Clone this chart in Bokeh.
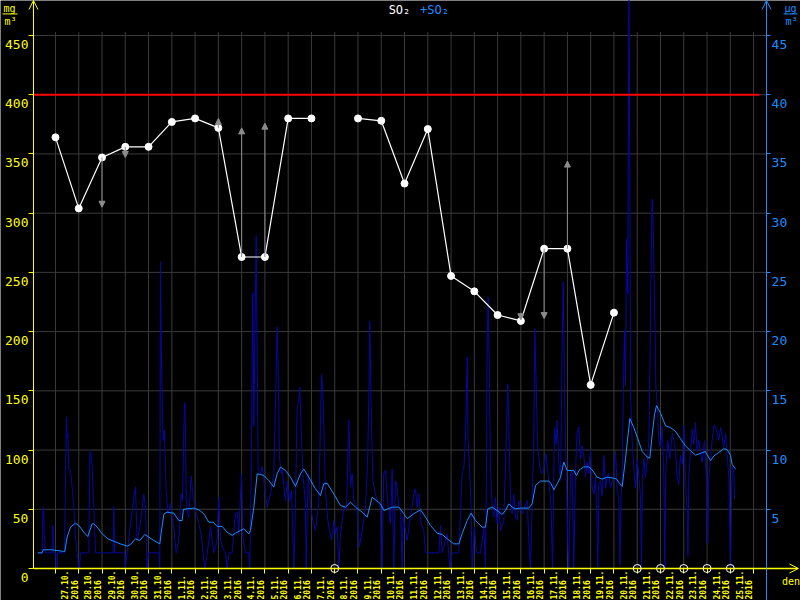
import math
from bokeh.plotting import figure
from bokeh.models import (Range1d, LinearAxis, FixedTicker, ColumnDataSource, Arrow,
                          OpenHead, NormalHead, Label)
from bokeh.core.properties import value
from bokeh.embed import file_html
from bokeh.resources import INLINE

NaN = float("nan")

# ---------------- data ----------------
date_labels = ["27.10.", "28.10.", "29.10.", "30.10.", "31.10.", "1.11.", "2.11.", "3.11.",
               "4.11.", "5.11.", "6.11.", "7.11.", "8.11.", "9.11.", "10.11.", "11.11.",
               "12.11.", "13.11.", "14.11.", "15.11.", "16.11.", "17.11.", "18.11.", "19.11.",
               "20.11.", "21.11.", "22.11.", "23.11.", "24.11.", "25.11."]
year_label = "2016"

# daily values (left axis), one per day starting 27.10.
daily_so2 = [364, 304, 347, 356, 356, 377, 380, 372, 263, 263, 380, 380, NaN, 380, 378,
             325, 371, 247, 234, 214, 209, 270, 270, 155, 216, NaN, NaN, NaN, NaN, NaN]
missing_days = [12, 25, 26, 27, 28, 29]
limit_value = 400

arrow_days = [2, 3, 7, 8, 9, 20, 21, 22]
arrow_from = [347, 356, 372, 263, 263, 216, 270, 270]
arrow_to = [305, 347, 380, 372, 376, 210, 211, 344]

left_ticks = [0, 50, 100, 150, 200, 250, 300, 350, 400, 450]
right_ticks = [5, 10, 15, 20, 25, 30, 35, 40, 45]

# hourly values (right axis), (hour since 27.10. 00:00, value)
hourly_a = [(-18.2, 1.32), (-13.7, 1.32), (-13.0, 4.6), (-12.3, 5.2), (-11.5, 3.0), (-10.3, 1.32),
            (-3.6, 1.32), (-3.2, 3.6), (-2.4, 3.6), (-2.0, 1.32), (0.2, 1.32), (0.7, 0), (1.7, 0),
            (2.2, 1.32), (9.3, 1.32), (10.0, 5.5), (11.3, 12.8), (12.0, 11.0), (12.7, 11.4),
            (13.8, 8.3), (15.5, 8.3), (17.2, 6.9), (18.9, 5.2), (20.6, 2.65), (22.3, 1.32),
            (24.0, 0), (24.8, 0), (25.8, 1.32), (34.4, 1.32), (35.4, 9.4), (36.1, 10.0),
            (37.8, 8.6), (39.5, 5.2), (41.3, 1.32), (59.5, 1.32), (60.2, 5.2), (61.0, 1.32),
            (71.5, 1.32), (72.2, 0), (73.9, 1.32), (77.4, 3.8), (80.8, 6.0), (82.5, 6.9),
            (84.2, 2.4), (87.7, 3.8), (91.1, 6.3), (92.8, 5.2), (94.5, 0), (96.0, 1.32),
            (106.6, 1.32), (107.6, 0), (108.3, 25.9), (109.3, 17.9), (111.0, 10.8), (112.4, 11.7),
            (114.1, 6.6), (115.9, 4.6), (118.6, 5.5), (122.0, 3.5), (124.5, 1.32), (127.2, 2.4),
            (129.6, 6.3), (131.0, 5.7), (133.0, 13.9), (133.6, 14.0), (135.1, 5.2), (137.5, 4.3),
            (139.9, 7.8), (142.0, 6.0), (144.4, 4.9), (147.8, 3.8), (150.2, 2.9), (154.0, 0),
            (156.4, 1.24), (159.9, 3.5), (163.3, 1.32), (166.7, 2.4)]
hourly_b = [(168.5, 6.0), (170.2, 2.4), (173.6, 1.5), (175.3, 1.32), (177.1, 0), (178.8, 1.32),
            (182.2, 1.32), (185.6, 4.6), (187.4, 4.8), (189.1, 2.9), (191.8, 8.0), (193.2, 2.65),
            (196.0, 1.32), (199.4, 1.32), (200.4, 0), (201.8, 7.4), (203.5, 23.3), (204.6, 12.0),
            (205.8, 20.4), (207.0, 28.1), (208.0, 18.1), (209.0, 8.3), (211.4, 8.0), (213.2, 8.6),
            (216.6, 6.3), (218.3, 5.2), (221.8, 6.3), (225.2, 8.0), (226.9, 13.9), (228.6, 20.4),
            (229.7, 17.0), (231.0, 9.4), (232.8, 8.0), (233.8, 8.3), (237.2, 5.7), (239.0, 7.4),
            (241.3, 5.7), (243.4, 6.6), (245.8, 0), (247.5, 5.2), (249.2, 13.6), (251.0, 14.2),
            (252.0, 15.3), (253.7, 11.1), (255.1, 8.0), (257.8, 5.5), (258.5, 0), (260.6, 8.0),
            (263.0, 5.2), (265.4, 4.05), (268.2, 3.2), (271.6, 5.7), (274.4, 16.4), (275.4, 15.6),
            (276.8, 11.9), (278.5, 6.6), (280.2, 4.6), (281.9, 3.5), (284.7, 2.4), (287.1, 4.05),
            (288.8, 2.9), (290.5, 3.5), (292.2, 0), (294.0, 2.9), (297.4, 5.2), (300.1, 4.9),
            (302.5, 12.5), (304.3, 6.9), (306.0, 8.0), (307.7, 5.7), (311.1, 5.2), (313.5, 1.8),
            (316.3, 3.2), (319.7, 5.2), (321.8, 8.6), (323.2, 14.5), (324.2, 20.9), (325.6, 13.6),
            (327.3, 7.4), (330.0, 6.3), (332.8, 5.5), (335.2, 5.2), (336.9, 0), (338.6, 8.0),
            (340.4, 8.3), (343.1, 5.2), (345.5, 3.8), (347.2, 8.4), (349.0, 0), (350.7, 7.4),
            (352.4, 6.9), (354.1, 5.2)]
hourly_c = [(355.8, 5.04), (357.5, 0), (358.6, 4.34), (362.7, 2.36), (366.1, 4.34), (369.6, 6.3),
            (371.3, 6.73), (373.0, 5.18), (374.7, 6.3), (377.1, 3.77), (379.9, 3.21), (381.6, 1.32),
            (395.4, 1.32), (397.1, 3.63), (398.8, 1.32), (404.0, 2.93), (406.7, 0), (409.1, 1.32),
            (416.0, 1.32), (417.7, 4.62), (419.4, 8.0), (421.2, 8.56), (422.9, 11.1), (424.6, 17.85),
            (425.6, 10.8), (427.0, 8.56), (428.7, 5.18), (429.7, 0), (432.2, 3.49), (434.2, 1.32),
            (438.3, 1.32), (440.1, 2.36), (441.8, 3.49), (443.5, 0), (444.5, 8.0), (445.2, 18.97),
            (446.3, 22.9), (447.3, 17.3), (448.7, 8.56), (450.4, 5.18), (452.1, 4.34), (453.8, 6.02),
            (455.5, 3.77), (457.3, 5.18), (459.0, 3.21), (462.4, 4.05), (465.2, 11.94), (466.5, 15.6),
            (467.9, 10.8), (469.3, 5.74), (471.0, 4.62), (472.7, 6.3), (474.4, 4.34), (476.2, 4.05),
            (477.9, 5.74), (479.6, 5.18), (481.3, 4.62), (483.7, 5.18), (486.5, 5.74), (488.2, 2.36),
            (489.9, 0), (491.6, 5.18), (493.3, 10.8), (494.4, 20.24), (495.8, 15.3), (497.5, 10.25),
            (499.5, 8.56), (502.0, 8.0), (503.7, 8.56), (505.7, 9.7), (508.8, 7.43), (511.2, 5.18),
            (512.6, 0), (514.7, 11.94), (516.4, 10.5), (517.4, 12.5), (519.1, 8.84), (520.9, 7.43),
            (522.6, 19.26), (523.6, 24.2), (525.0, 15.03), (526.7, 8.56), (528.4, 2.36), (529.4, 0),
            (531.2, 8.0), (532.9, 8.28), (534.6, 0), (536.3, 8.0), (538.0, 11.4), (539.8, 11.94)]
hourly_d = [(541.5, 9.26), (543.2, 10.34), (544.9, 9.57), (546.7, 7.71), (548.4, 8.95), (550.1, 8.02),
            (551.8, 10.03), (553.5, 6.78), (555.3, 6.32), (557.0, 7.71), (558.7, 3.37), (559.4, 0.1),
            (560.4, 7.09), (562.1, 7.4), (563.8, 6.16), (565.6, 9.57), (567.3, 6.78), (569.0, 7.71),
            (570.7, 8.02), (572.4, 6.78), (574.2, 7.4), (575.9, 7.71), (577.6, 9.88), (579.3, 6.5),
            (581.0, 5.85), (582.1, 0.3), (583.4, 6.16), (584.5, 7.71), (585.5, 13.9), (586.9, 20.1),
            (587.9, 15.45), (589.0, 27.8), (590.3, 23.2), (591.4, 50.0), (592.4, 33.4), (593.1, 14.8),
            (594.8, 10.8), (596.5, 8.33), (598.2, 6.78), (600.0, 9.26), (601.7, 7.71), (603.4, 6.16),
            (604.4, 0.1), (605.4, 7.71), (606.8, 9.26), (608.5, 7.71), (610.3, 8.95), (612.0, 10.8),
            (613.0, 16.4), (614.4, 26.3), (615.4, 31.2), (616.5, 28.8), (617.8, 23.2), (619.2, 15.45),
            (620.6, 13.9), (622.3, 10.8), (624.0, 10.19), (625.7, 12.05), (627.5, 7.71), (628.5, 0.1),
            (629.5, 8.33), (631.6, 10.8), (633.6, 9.26), (636.1, 11.43), (637.8, 10.8), (639.5, 9.88),
            (641.2, 7.71), (642.9, 7.09), (644.6, 9.57), (646.4, 8.8), (648.1, 12.05), (649.8, 7.4),
            (651.5, 4.92), (652.3, 1.0), (653.2, 7.71), (655.0, 9.88), (656.7, 11.74), (658.4, 10.5),
            (660.1, 12.36), (661.8, 9.88), (663.5, 10.8), (665.3, 9.88), (667.0, 8.95), (669.4, 10.8),
            (671.5, 7.09), (672.8, 2.13), (673.9, 7.71), (675.6, 9.26), (677.3, 10.8), (679.0, 12.05),
            (680.7, 12.05), (682.5, 11.43), (684.2, 10.8), (685.9, 11.89), (687.6, 11.12), (689.3, 10.19),
            (691.1, 11.43), (692.8, 9.57), (694.5, 7.71), (696.2, 0.1), (697.9, 8.64), (699.7, 8.02),
            (700.3, 5.85)]

# running average (right axis)
average_a = [(-18.2, 1.32), (-13.7, 1.32), (-12.7, 1.58), (-3.4, 1.58), (8.6, 1.44), (9.6, 1.44),
             (12.0, 2.65), (15.5, 3.49), (20.6, 3.83), (24.1, 3.63), (29.2, 3.07), (33.3, 2.70),
             (37.8, 3.77), (39.5, 3.77), (43.0, 3.49), (48.1, 2.93), (54.0, 2.51), (58.4, 2.36),
             (67.0, 2.08), (73.9, 1.89), (77.4, 2.03), (82.5, 2.51), (87.0, 2.36), (92.1, 2.87),
             (96.3, 2.65), (101.4, 2.36), (107.6, 2.08), (109.0, 3.0), (111.8, 4.6), (115.1, 4.76),
             (122.0, 4.67), (127.2, 4.05), (130.6, 4.05), (132.0, 5.0), (142.6, 5.10), (147.8, 4.96),
             (153.0, 4.62), (158.1, 3.91), (162.6, 3.91), (166.7, 3.55)]
average_b = [(171.9, 3.55), (177.1, 3.07), (182.2, 2.79), (185.6, 2.98), (190.8, 3.21), (194.2, 3.35),
             (199.4, 2.93), (201.1, 3.21), (204.6, 5.18), (208.0, 8.0), (214.9, 7.85), (220.0, 7.43),
             (225.2, 6.87), (228.6, 8.0), (232.1, 8.56), (237.2, 8.28), (242.4, 7.71), (247.5, 6.93),
             (252.7, 8.0), (256.1, 8.39), (261.3, 7.71), (268.1, 6.73), (273.3, 6.16), (276.7, 7.15),
             (280.2, 7.2), (287.0, 6.3), (293.9, 5.32), (299.1, 5.18), (304.3, 5.6), (309.4, 5.18),
             (316.3, 4.76), (321.5, 4.34), (326.6, 6.02), (335.2, 5.46), (338.7, 4.9), (347.3, 5.18),
             (354.2, 5.18)]
average_c = [(359.3, 4.62), (362.7, 4.2), (369.6, 4.62), (376.5, 4.96), (381.6, 4.34), (386.8, 3.63),
             (393.7, 2.98), (398.8, 2.87), (404.0, 2.51), (410.8, 2.08), (416.0, 2.08), (419.4, 2.93),
             (424.6, 4.05), (428.7, 4.67), (433.2, 4.05), (440.1, 3.49), (443.5, 3.49), (445.9, 5.04),
             (450.4, 5.18), (455.5, 4.9), (460.7, 4.56), (464.1, 4.9), (467.6, 5.46), (471.0, 5.18),
             (474.4, 5.04), (479.6, 5.1), (488.2, 5.1), (491.6, 5.46), (495.1, 7.01), (500.2, 7.38),
             (508.8, 7.38), (511.2, 7.15), (514.0, 6.64), (517.4, 7.15), (520.9, 7.71), (524.3, 8.98),
             (527.7, 8.28), (534.6, 8.28), (537.4, 7.85), (540.0, 8.3)]
average_d = [(541.5, 8.39), (544.9, 8.58), (550.1, 8.58), (553.5, 8.33), (558.7, 7.71), (563.8, 7.55),
             (569.0, 7.71), (574.2, 7.65), (578.6, 7.55), (582.1, 7.15), (584.5, 6.93), (587.9, 9.26),
             (592.4, 12.66), (596.5, 11.89), (600.6, 10.96), (605.1, 9.88), (610.3, 9.41), (613.0, 9.3),
             (615.4, 11.27), (617.8, 12.97), (619.9, 13.75), (624.0, 13.13), (629.2, 12.04),
             (634.3, 11.89), (639.5, 11.58), (644.6, 10.96), (649.8, 10.34), (655.0, 9.94),
             (660.1, 9.57), (665.3, 9.72), (670.4, 9.88), (675.6, 9.1), (679.0, 9.5), (684.2, 9.8),
             (689.3, 10.12), (692.8, 10.03), (696.2, 9.57), (697.9, 8.79), (701.4, 8.39)]

# ---------------- style ----------------
YEL = "#ffff00"
BLUE = "#1e8cff"
DARK = "#0808a0"
GRID_C = "#3a3a3a"
GREY = "#8c8c8c"
MONO = "DejaVu Sans Mono"

# frame covers the whole canvas; axes are pinned at fixed locations
XMIN, XMAX = -56.7, 768.4       # hours relative to 27.10. 00:00 (canvas edges)
YMIN, YMAX = -27.02, 479.55     # left-axis units (canvas edges)
X0, X1 = -22.7, 733.4           # positions of the left and right axes
H_PER_DAY = 24

hourly = hourly_a + hourly_b + hourly_c + hourly_d
average = average_a + average_b + average_c + average_d

p = figure(width=800, height=600, output_backend="svg", toolbar_location=None,
           x_range=Range1d(XMIN, XMAX), y_range=Range1d(YMIN, YMAX),
           x_axis_type=None, y_axis_type=None,
           background_fill_color="black", border_fill_color="black",
           outline_line_color=None, min_border=0)
p.extra_y_ranges = {"r": Range1d(YMIN / 10, YMAX / 10)}

day_bounds = [H_PER_DAY * k for k in range(len(date_labels) + 1)]
label_pos = [H_PER_DAY * k + 15.4 for k in range(len(date_labels))]

# grid
p.segment(x0=[X0] * 9, y0=left_ticks[1:], x1=[X1] * 9, y1=left_ticks[1:],
          line_color=GRID_C, line_width=1, level="underlay")
p.segment(x0=day_bounds, y0=[0] * len(day_bounds), x1=day_bounds, y1=[453] * len(day_bounds),
          line_color=GRID_C, line_width=1, level="underlay")

# axes (pinned)
yl = LinearAxis(fixed_location=X0, bounds=(0, YMAX), ticker=FixedTicker(ticks=left_ticks),
                axis_line_color=YEL, major_tick_line_color=YEL, major_tick_out=5, major_tick_in=0,
                minor_tick_line_color=None, major_label_text_color=YEL,
                major_label_text_font=MONO, major_label_text_font_size="13px",
                major_label_standoff=0,
                major_label_overrides={v: "\n" + str(v) for v in left_ticks})
p.add_layout(yl, "left")

yr = LinearAxis(y_range_name="r", fixed_location=X1, ticker=FixedTicker(ticks=right_ticks),
                axis_line_color=BLUE, major_tick_line_color=BLUE, major_tick_out=4, major_tick_in=0,
                minor_tick_line_color=None, major_label_text_color=BLUE,
                major_label_text_font=MONO, major_label_text_font_size="13px",
                major_label_standoff=1,
                major_label_overrides={v: "\n" + str(v) for v in right_ticks})
p.add_layout(yr, "right")

xa = LinearAxis(fixed_location=0, bounds=(X0, X1), ticker=FixedTicker(ticks=day_bounds),
                axis_line_color=YEL, axis_line_width=1.5,
                major_tick_out=5, major_tick_in=0, major_tick_line_color=YEL,
                minor_tick_line_color=None, major_label_text_font_size="1px",
                major_label_overrides={b: "" for b in day_bounds})
p.add_layout(xa, "below")

# date labels below the x axis
lsrc = ColumnDataSource(dict(x=label_pos, text=[f"{d}\n{year_label}" for d in date_labels]))
p.text(x="x", y=-26.2, text="text", source=lsrc, angle=math.pi / 2,
       text_align="left", text_baseline="middle", text_color=YEL,
       text_font=value(MONO), text_font_size=value("8px"), text_font_style="bold",
       text_line_height=1.05)

# hourly data and running average
p.line([t for t, v in hourly], [v for t, v in hourly], y_range_name="r",
       line_color=DARK, line_width=1)
p.line([t for t, v in average], [v for t, v in average], y_range_name="r",
       line_color=BLUE, line_width=1)

# limit line
p.segment(x0=[X0], y0=[limit_value], x1=[726.1], y1=[limit_value], line_color="#ff0000", line_width=2)

# arrows
asrc = ColumnDataSource(dict(x=[H_PER_DAY * d for d in arrow_days], y0=arrow_from, y1=arrow_to))
p.add_layout(Arrow(x_start="x", y_start="y0", x_end="x", y_end="y1", source=asrc,
                   line_color=GREY, line_width=1,
                   end=NormalHead(size=6, fill_color=GREY, line_color=GREY)))

# daily values
day_t = [H_PER_DAY * k for k in range(len(daily_so2))]
p.line(day_t, daily_so2, line_color="white", line_width=1.2)
p.scatter(day_t, daily_so2, size=7, fill_color="white", line_color="white")
p.scatter([H_PER_DAY * d for d in missing_days], [0] * len(missing_days), size=8,
          fill_color=None, line_color="white", line_width=1, level="overlay")

# axis arrows
p.add_layout(Arrow(x_start=X0, y_start=YMAX - 13, x_end=X0, y_end=YMAX, line_color=YEL,
                   end=OpenHead(size=9, line_color=YEL, line_width=1)))
p.add_layout(Arrow(x_start=X1, y_start=YMAX - 13, x_end=X1, y_end=YMAX, line_color=BLUE,
                   end=OpenHead(size=9, line_color=BLUE, line_width=1)))
p.add_layout(Arrow(x_start=X1, y_start=0, x_end=766.3, y_end=0, line_color=YEL, line_width=1.5,
                   end=OpenHead(size=9, line_color=YEL, line_width=1)))

# unit and legend labels
p.add_layout(Label(x=758.6, y=-10.6, text="den", text_color=YEL, text_font=MONO,
                   text_font_size="10px", text_align="center", text_baseline="middle"))
p.add_layout(Label(x=-47.4, y=472.6, text="mg", text_color=YEL, text_font=MONO,
                   text_font_size="10px", text_align="center", text_baseline="middle"))
p.add_layout(Arrow(x_start=-54.7, y_start=468.2, x_end=-39.2, y_end=468.2, line_color=YEL, end=None))
p.add_layout(Label(x=-46.4, y=461.4, text="m³", text_color=YEL, text_font=MONO,
                   text_font_size="10px", text_align="center", text_baseline="middle"))
p.add_layout(Label(x=758.1, y=472.6, text="µg", text_color=BLUE, text_font=MONO,
                   text_font_size="10px", text_align="center", text_baseline="middle"))
p.add_layout(Arrow(x_start=750.9, y_start=468.2, x_end=765.3, y_end=468.2, line_color=BLUE, end=None))
p.add_layout(Label(x=759.1, y=461.4, text="m³", text_color=BLUE, text_font=MONO,
                   text_font_size="10px", text_align="center", text_baseline="middle"))

p.add_layout(Label(x=354.8, y=471.6, text="SO₂", text_color="white", text_font=MONO,
                   text_font_size="12px", text_align="center", text_baseline="middle"))
p.add_layout(Label(x=390.9, y=471.6, text="+SO₂", text_color=BLUE, text_font=MONO,
                   text_font_size="12px", text_align="center", text_baseline="middle"))

open("out.html", "w").write(file_html(p, INLINE))
